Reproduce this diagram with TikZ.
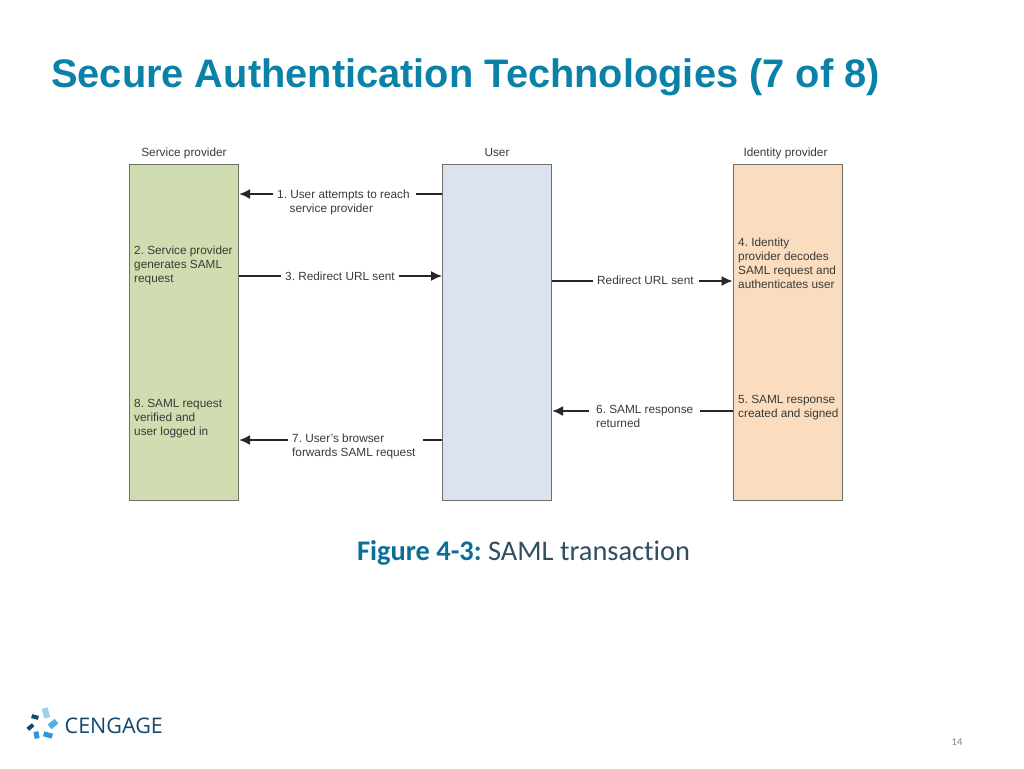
\documentclass[tikz,border=0pt]{standalone}
\usepackage{fontspec}
\setmainfont{Liberation Sans}
\newfontfamily\carlito[Ligatures={NoCommon}]{Carlito}
\newfontfamily\opensans{Open Sans}
\usetikzlibrary{arrows.meta}
\definecolor{titleblue}{HTML}{0A82A8}
\definecolor{capblue}{HTML}{0B6E96}
\definecolor{captext}{HTML}{2F4F5F}
\definecolor{spgreen}{HTML}{CFDDB0}
\definecolor{userblue}{HTML}{DCE2EF}
\definecolor{idporange}{HTML}{FADDBF}
\definecolor{edgegray}{HTML}{6E7068}
\definecolor{txt}{HTML}{3A3A3A}
\definecolor{logodark}{HTML}{14476E}
\definecolor{logomid}{HTML}{2A9AD6}
\definecolor{logolight}{HTML}{9CD0EE}
\tikzset{
  x=1pt,y=-1pt,
  lane/.style={draw=edgegray,line width=1.2pt,anchor=north west,minimum width=109pt,minimum height=336pt,inner sep=0pt},
  head/.style={font=\fontsize{11.8}{14}\selectfont,text=txt,anchor=base,inner sep=0pt},
  lab/.style={font=\fontsize{11.8}{14}\selectfont\frenchspacing,text=txt,align=left,anchor=north west,inner sep=0pt},
  conn/.style={draw=black!85,line width=1.5pt},
  arr/.style={conn,-{Latex[length=11pt,width=10pt]}},
  logopiece/.style={minimum width=#1,minimum height=4pt,inner sep=0pt,outer sep=0pt}
}
\begin{document}
\frenchspacing
\begin{tikzpicture}
\useasboundingbox[fill=white] (0,0) rectangle (1024,768);
\node[anchor=base west,inner sep=0pt,text=titleblue,font=\bfseries\fontsize{39.8}{48}\selectfont] (title) at (51,87) {Secure Authentication Technologies (7 of 8)};

\node[lane,fill=spgreen] (sp) at (129,164) {};
\node[lane,fill=userblue] (user) at (442,164) {};
\node[lane,fill=idporange] (idp) at (732.5,164) {};

\node[head] (hsp) at (184,156.5) {Service provider};
\node[head] (huser) at (497,156.5) {User};
\node[head] (hidp) at (785.5,156.5) {Identity provider};

\node[lab] (t2) at (134,245.5) {2. Service provider\\generates SAML\\request};
\node[lab] (t8) at (134,399) {8. SAML request\\verified and\\[0.5pt]user logged in};
\node[lab] (t4) at (738,237.5) {4. Identity\\provider decodes\\SAML request and\\authenticates user};
\node[lab] (t5) at (738,395) {5. SAML response\\created and signed};

\node[lab] (l1) at (277,189.5) {1. User attempts to reach\\\hspace*{12.5pt}service provider};
\node[lab] (l3) at (285,271.5) {3. Redirect URL sent};
\node[lab] (lr) at (597,275.5) {Redirect URL sent};
\node[lab] (l6) at (596,405.5) {6. SAML response\\returned};
\node[lab] (l7) at (292,434) {7. User’s browser\\forwards SAML request};

\coordinate (a1) at (0,194);
\coordinate (a3) at (0,276);
\coordinate (ar) at (0,281);
\coordinate (a6) at (0,411);
\coordinate (a7) at (0,440);

\draw[arr] (l1.west |- a1) ++(-4,0) -- (sp.east |- a1);
\draw[conn] (user.west |- a1) -- ++(-26,0);
\draw[conn] (sp.east |- a3) -- ++(42,0);
\draw[arr] (l3.east |- a3) ++(4,0) -- (user.west |- a3);
\draw[conn] (user.east |- ar) -- ++(41,0);
\draw[arr] (lr.east |- ar) ++(5,0) -- (idp.west |- ar);
\draw[arr] (l6.west |- a6) ++(-7,0) -- (user.east |- a6);
\draw[conn] (idp.west |- a6) -- ++(-33,0);
\draw[arr] (l7.west |- a7) ++(-4,0) -- (sp.east |- a7);
\draw[conn] (user.west |- a7) -- ++(-19,0);

\node[anchor=base west,inner sep=0pt,font=\carlito\fontsize{28.4}{32}\selectfont,text=captext] (cap) at (357,560) {\textcolor{capblue}{\textbf{Figure 4-3:}} SAML transaction};

% logo
\node[logopiece=10pt,fill=logolight,rotate=-75,minimum height=6pt] (p1) at (46,713) {};
\node[logopiece=7pt,fill=logodark,rotate=-15] (p2) at (35,717) {};
\node[logopiece=9pt,fill=logomid!60!logolight,rotate=40,minimum height=6pt] (p3) at (53,724) {};
\node[logopiece=7pt,fill=logodark,rotate=40] (p4) at (30.5,727) {};
\node[logopiece=7pt,fill=logomid,rotate=-80,minimum height=5pt] (p5) at (36.5,735) {};
\node[logopiece=9pt,fill=logomid,rotate=-15,minimum height=5pt] (p6) at (48,735) {};
\node[anchor=base west,inner sep=0pt,font=\opensans\fontsize{21.5}{26}\selectfont,text=logodark] (logo) at (64.5,733) {CENGAGE};

\node[anchor=base,inner sep=0pt,font=\carlito\fontsize{10.5}{12}\selectfont,text=black!50] (pg) at (957,745) {14};
\end{tikzpicture}
\end{document}
